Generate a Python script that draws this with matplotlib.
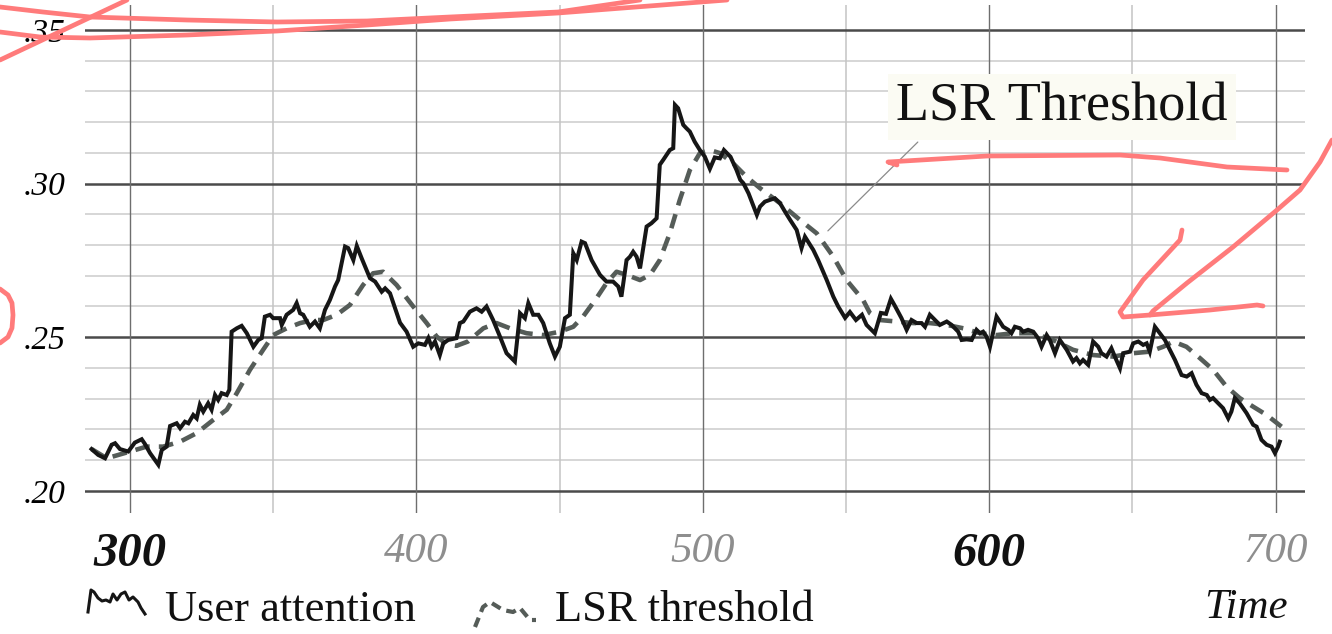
import matplotlib.pyplot as plt
from matplotlib.lines import Line2D
from matplotlib.transforms import Affine2D

# ---- data ----
time_attention = [
    286.6, 288.9, 291.3, 293.6, 294.8, 296.5, 299.4, 301.7, 304.1, 305.2,
    307.0, 309.9, 311.1, 312.8, 314.0, 316.3, 317.5, 319.2, 320.4, 322.1,
    323.3, 324.4, 325.6, 327.3, 328.5, 329.7, 330.8, 332.0, 333.8, 334.7,
    335.5, 337.3, 339.0, 340.8, 343.1, 344.8, 346.0, 347.1, 348.9, 350.0,
    352.4, 353.0, 354.7, 357.0, 358.2, 359.4, 360.5, 362.8, 364.6, 366.3,
    368.1, 369.8, 371.6, 372.7, 375.1, 376.2, 378.0, 379.2, 380.9, 383.8,
    385.6, 387.9, 389.1, 390.8, 394.3, 396.6, 398.9, 400.7, 403.0, 404.2,
    405.3, 406.5, 408.2, 409.4, 411.1, 414.0, 415.2, 416.4, 418.7, 421.0,
    422.8, 424.5, 426.8, 429.2, 431.5, 434.4, 436.2, 437.9, 439.1, 440.8,
    442.6, 444.3, 446.6, 448.4, 450.1, 451.9, 453.6, 454.8, 456.0, 457.7,
    458.9, 461.2, 464.1, 466.4, 468.7, 470.5, 471.6, 473.4, 474.6, 475.7,
    476.9, 478.1, 480.4, 482.1, 483.9, 485.0, 486.2, 488.5, 489.7, 490.3,
    491.4, 493.2, 494.3, 495.5, 497.2, 499.0, 500.7, 502.5, 504.2, 506.0,
    507.4, 509.7, 511.8, 513.1, 514.2, 516.0, 518.9, 520.0, 521.7, 523.5,
    525.2, 527.0, 528.7, 530.5, 532.8, 534.5, 535.7, 538.6, 540.3, 543.3,
    545.6, 547.3, 549.7, 551.4, 553.5, 555.6, 557.2, 560.1, 562.2, 564.0,
    565.7, 567.1, 569.4, 571.2, 572.9, 574.7, 576.4, 577.6, 579.3, 581.1,
    582.8, 585.2, 586.9, 589.2, 590.4, 592.1, 593.9, 595.6, 596.8, 597.9,
    599.1, 600.3, 602.6, 604.9, 606.7, 607.8, 609.0, 610.8, 611.9, 613.6,
    615.4, 617.1, 618.3, 620.1, 621.2, 623.0, 624.7, 627.1, 629.3, 630.5,
    631.7, 632.8, 634.6, 636.3, 638.1, 639.2, 641.0, 642.7, 643.9, 645.7,
    646.8, 649.2, 650.3, 652.1, 653.8, 655.0, 656.1, 657.9, 659.6, 661.4,
    663.1, 664.9, 667.2, 669.0, 670.7, 672.4, 674.2, 676.0, 677.1, 678.2,
    680.0, 681.7, 683.5, 684.6, 685.8, 687.5, 689.9, 692.2, 693.4, 695.1,
    696.9, 698.6, 699.8, 700.9, 701.5,
]
user_attention = [
    .2136, .2117, .2106, .2150, .2155, .2136, .2128, .2157, .2168, .2153,
    .2123, .2085, .2133, .2144, .2211, .2220, .2204, .2225, .2220, .2247,
    .2236, .2280, .2258, .2285, .2264, .2312, .2296, .2318, .2312, .2329,
    .2518, .2529, .2537, .2513, .2469, .2491, .2497, .2567, .2573, .2562,
    .2562, .2540, .2573, .2589, .2611, .2578, .2573, .2534, .2551, .2529,
    .2589, .2621, .2665, .2686, .2795, .2790, .2751, .2797, .2757, .2692,
    .2681, .2648, .2659, .2643, .2547, .2518, .2469, .2480, .2475, .2497,
    .2469, .2486, .2442, .2480, .2491, .2497, .2546, .2551, .2583, .2594,
    .2583, .2600, .2556, .2502, .2448, .2421, .2578, .2562, .2611, .2573,
    .2573, .2546, .2480, .2437, .2469, .2562, .2573, .2773, .2751, .2811,
    .2806, .2751, .2703, .2681, .2681, .2665, .2632, .2751, .2762, .2778,
    .2762, .2724, .2860, .2871, .2887, .3061, .3077, .3109, .3115, .3256,
    .3245, .3191, .3180, .3169, .3136, .3109, .3088, .3048, .3085, .3082,
    .3109, .3087, .3044, .3012, .3001, .2968, .2898, .2925, .2941, .2947,
    .2952, .2936, .2909, .2882, .2849, .2790, .2827, .2784, .2751, .2686,
    .2632, .2600, .2563, .2582, .2556, .2573, .2540, .2513, .2579, .2576,
    .2625, .2602, .2562, .2524, .2556, .2546, .2546, .2534, .2573, .2556,
    .2540, .2551, .2540, .2518, .2491, .2493, .2491, .2524, .2513, .2518,
    .2502, .2469, .2567, .2534, .2524, .2513, .2534, .2529, .2518, .2524,
    .2518, .2497, .2469, .2507, .2491, .2448, .2491, .2459, .2421, .2432,
    .2415, .2426, .2410, .2486, .2469, .2448, .2437, .2464, .2437, .2399,
    .2448, .2453, .2480, .2486, .2475, .2480, .2453, .2534, .2513, .2491,
    .2459, .2426, .2377, .2372, .2383, .2345, .2318, .2312, .2296, .2302,
    .2285, .2269, .2236, .2258, .2302, .2285, .2253, .2215, .2209, .2166,
    .2150, .2144, .2123, .2144, .2160,
]

time_threshold = [
    286.6, 291.9, 300.0, 305.8, 311.6, 317.5, 323.3, 329.1, 333.8, 337.3,
    341.9, 346.5, 350.0, 354.7, 359.4, 364.0, 367.5, 372.2, 376.8, 381.4,
    384.9, 388.4, 393.1, 398.9, 403.6, 407.1, 410.5, 414.0, 418.0, 423.4,
    428.0, 432.7, 438.5, 444.3, 450.1, 454.8, 458.2, 462.9, 466.4, 469.9,
    473.4, 478.1, 481.6, 485.0, 488.5, 492.0, 495.5, 499.0, 502.5, 506.0,
    510.6, 515.3, 520.0, 527.0, 533.9, 539.8, 545.6, 550.2, 556.0, 558.4,
    561.9, 567.7, 573.5, 579.3, 585.2, 591.0, 596.8, 602.6, 608.4, 615.4,
    622.3, 629.3, 636.3, 643.3, 650.3, 656.1, 660.8, 664.3, 668.9, 673.6,
    678.2, 682.9, 687.5, 692.2, 696.9, 702.1,
]
lsr_threshold = [
    .2136, .2106, .2128, .2144, .2144, .2160, .2188, .2231, .2264, .2318,
    .2394, .2459, .2507, .2529, .2546, .2556, .2556, .2573, .2605, .2670,
    .2708, .2713, .2670, .2600, .2546, .2502, .2478, .2472, .2486, .2529,
    .2546, .2529, .2513, .2507, .2518, .2534, .2567, .2627, .2676, .2713,
    .2703, .2686, .2703, .2751, .2838, .2947, .3044, .3099, .3109, .3099,
    .3066, .3022, .2985, .2936, .2882, .2838, .2762, .2686, .2621, .2578,
    .2556, .2551, .2546, .2546, .2540, .2529, .2513, .2507, .2513, .2513,
    .2491, .2459, .2442, .2437, .2448, .2453, .2469, .2486, .2469, .2432,
    .2394, .2339, .2302, .2274, .2247, .2209,
]

x_major = [300, 400, 500, 600, 700]
x_minor = [350, 450, 550, 650]
x_labels = ['300', '400', '500', '600', '700']
x_label_bold = [True, False, False, True, False]
y_major = [0.20, 0.25, 0.30, 0.35]
y_labels = ['.20', '.25', '.30', '.35']
y_minor = [0.21, 0.22, 0.23, 0.24, 0.26, 0.27, 0.28, 0.29,
           0.31, 0.32, 0.33, 0.34]

# ---- figure ----
plt.rcParams['font.family'] = ['Liberation Serif', 'DejaVu Serif']
W, H = 1332, 634
fig = plt.figure(figsize=(W / 100, H / 100), dpi=100)
ax = fig.add_axes([85 / W, 1 - 513 / H, 1220 / W, 508 / H])
ax.set_xlim(284.3, 710.3)
ax.set_ylim(0.1928, 0.3581)
for s in ax.spines.values():
    s.set_visible(False)

# grid
for y in y_minor:
    ax.axhline(y, color='#d6d6d6', lw=1.4, zorder=0)
for y in y_major:
    ax.axhline(y, color='#4a4a4a', lw=1.8, zorder=1)
for x in x_minor:
    ax.axvline(x, color='#c4c4c4', lw=1.1, zorder=0)
for x in x_major:
    ax.axvline(x, color='#6e6e6e', lw=1.0, zorder=1)

# series
ax.plot(time_threshold, lsr_threshold, color='#555c58', lw=3.3,
        dashes=(3.2, 2.0), zorder=3)
ax.plot(time_attention, user_attention, color='#161616', lw=2.9,
        solid_joinstyle='miter', zorder=4)

# ticks
ax.tick_params(length=0)
ax.set_yticks(y_major)
ax.set_yticklabels(y_labels, fontsize=24, style='italic')
ax.tick_params(axis='y', pad=14)
ax.set_xticks(x_major)
ax.set_xticklabels(x_labels)
ax.tick_params(axis='x', pad=14)
for lab, bold in zip(ax.get_xticklabels(), x_label_bold):
    lab.set_style('italic')
    if bold:
        lab.set_fontweight('bold')
        lab.set_fontsize(35)
        lab.set_color('#111111')
    else:
        lab.set_fontsize(31)
        lab.set_color('#8e8e8e')

# callout
ax.text(625.4, 0.3249, 'LSR Threshold', ha='center', va='center',
        fontsize=39, color='#111111', zorder=6,
        bbox=dict(boxstyle='square,pad=0.15', fc='#fbfbf3', ec='none'))
ax.annotate('', xy=(543.7, 0.2846), xytext=(575.1, 0.3135),
            arrowprops=dict(arrowstyle='-', color='#8a8a8a', lw=0.9,
                            shrinkA=0, shrinkB=0), zorder=5)

# pixel-space overlay (legend glyphs, pen marks)
px = Affine2D().scale(1 / W, -1 / H).translate(0, 1) + fig.transFigure


def stroke(xs, ys, **kw):
    fig.add_artist(Line2D(xs, ys, transform=px, **kw))


stroke([88, 91, 94, 98, 102, 106, 110, 113, 117, 121, 125, 129, 133, 138, 141, 145],
       [612, 590, 592, 598, 601, 600, 602, 594, 600, 594, 592, 600, 597, 602, 608, 614],
       color='#161616', lw=2.2)
stroke([475, 483, 490, 503, 513, 520, 530, 536],
       [627, 607, 602, 610, 612, 608, 620, 620],
       color='#555c58', lw=3.0, dashes=(2.4, 1.5))
fig.text(165 / W, 1 - 610 / H, 'User attention', fontsize=32,
         va='center', ha='left', color='#111111')
fig.text(555 / W, 1 - 610 / H, 'LSR threshold', fontsize=32,
         va='center', ha='left', color='#111111')
fig.text(1288 / W, 1 - 608 / H, 'Time', fontsize=31, style='italic',
         va='center', ha='right', color='#111111')

pen = dict(color='#ff7b7b', lw=3.4, solid_capstyle='round',
           solid_joinstyle='round', zorder=10)
stroke([0, 43, 90, 187, 277, 367, 450, 558, 640],
       [7, 12, 17, 20, 22, 21, 17, 12, 0], **pen)
stroke([0, 40, 90, 187, 277, 367, 450, 558, 727],
       [32, 37, 38, 35, 31, 25, 19, 13, 0], **pen)
stroke([0, 127], [60, 0], **pen)
stroke([0, 8, 12, 13, 12, 8, 0], [289, 295, 303, 315, 328, 337, 343], **pen)
stroke([897, 888, 987, 1120, 1160, 1227, 1287],
       [165, 162, 156, 155, 158, 167, 170], **pen)
stroke([1332, 1320, 1300, 1277, 1233, 1187, 1153, 1150],
       [140, 162, 190, 210, 247, 283, 311, 315], **pen)
stroke([1182, 1180, 1143, 1120, 1123, 1150, 1210, 1257, 1263],
       [230, 240, 280, 312, 317, 315, 310, 305, 306], **pen)

fig.savefig('out.png', dpi=100, facecolor='white')
